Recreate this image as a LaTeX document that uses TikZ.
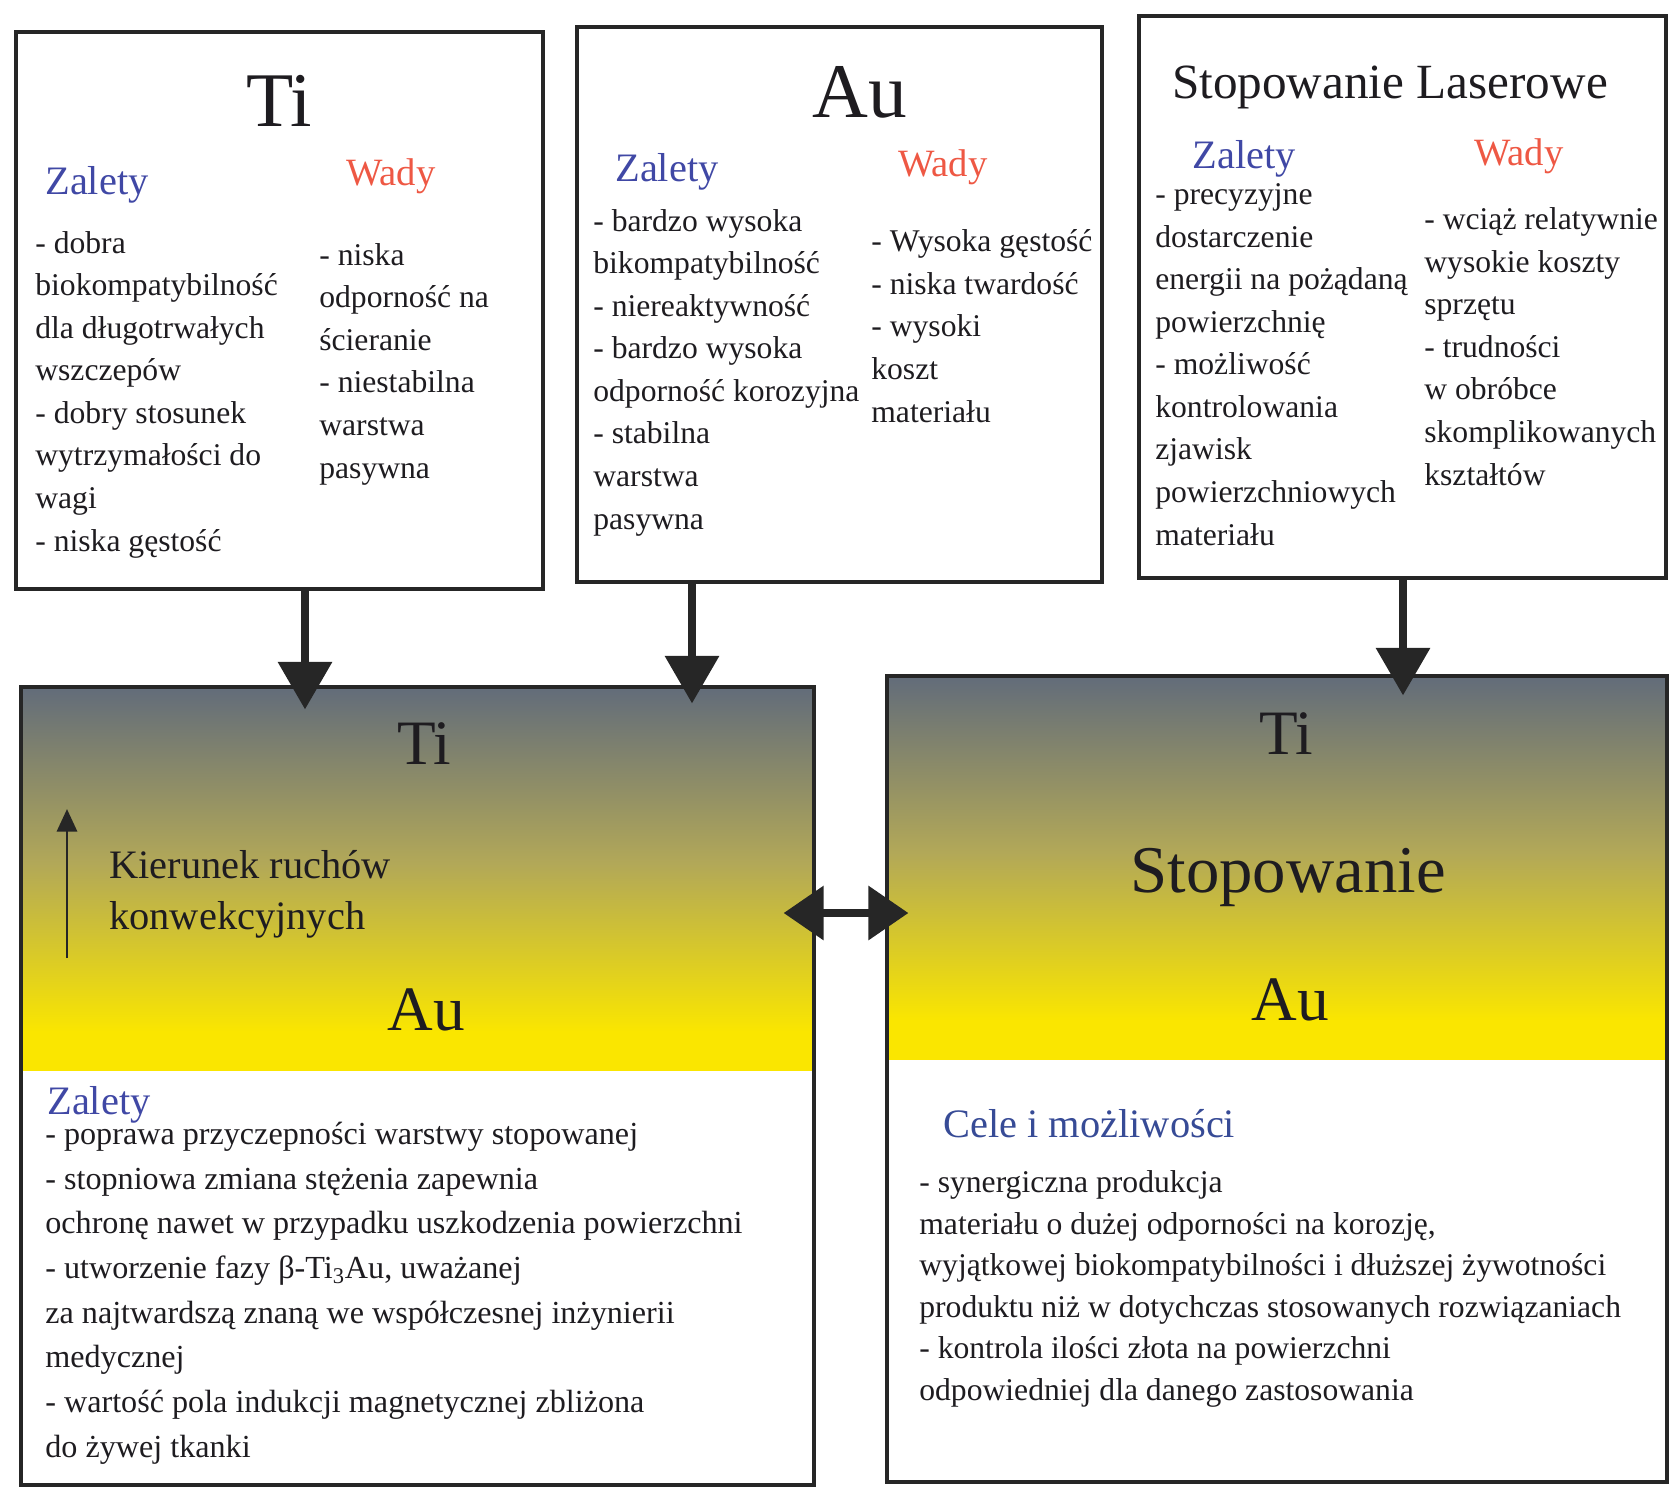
\documentclass[tikz,border=0pt]{standalone}
\usepackage{fontspec}
\setmainfont{Liberation Serif}
\usetikzlibrary{arrows.meta,fit}

\definecolor{zalcol}{RGB}{64,72,165}
\definecolor{wadcol}{RGB}{238,88,68}
\definecolor{celecol}{RGB}{55,75,150}
\definecolor{txtcol}{RGB}{30,28,32}
\definecolor{tigray}{RGB}{98,108,122}
\definecolor{midolive}{RGB}{178,168,88}
\definecolor{auyellow}{RGB}{250,230,0}

\pgfdeclareverticalshading{tiaushade}{100bp}{color(0bp)=(auyellow); color(25bp)=(auyellow); color(30bp)=(auyellow); color(52bp)=(midolive); color(75bp)=(tigray); color(100bp)=(tigray)}

\begin{document}
\begin{tikzpicture}[x=0.02cm, y=-0.02cm,
  box/.style={draw=black!85, line width=1.8pt, inner sep=0pt},
  lst/.style={anchor=base west, align=left, inner sep=0pt, text=txtcol, font=\fontsize{18}{24.2}\selectfont},
  lstwide/.style={lst, font=\fontsize{18.3}{25.4}\selectfont},
  lstcele/.style={lst, font=\fontsize{18}{23.6}\selectfont},
  zal/.style={anchor=base west, inner sep=0pt, text=zalcol, font=\fontsize{23}{28}\selectfont},
  wad/.style={anchor=base west, inner sep=0pt, text=wadcol, font=\fontsize{22}{28}\selectfont},
  elem/.style={anchor=base, inner sep=0pt, text=txtcol, font=\fontsize{44}{50}\selectfont},
  layer/.style={anchor=base, inner sep=0pt, text=txtcol, font=\fontsize{36}{40}\selectfont},
  bigarr/.style={draw=black!85, line width=4.6pt, -{Triangle[length=0.95cm,width=1.05cm]}},
  dblarr/.style={draw=black!85, line width=4.6pt, {Triangle[length=0.8cm,width=1.05cm]}-{Triangle[length=0.8cm,width=1.05cm]}},
  smallarr/.style={draw=black!85, line width=1.7pt, -{Triangle[length=0.45cm,width=0.4cm]}}]
\useasboundingbox (0,0) rectangle (1669,1489);

% top boxes
\node[box, fit={(16,32) (543,589)}] (ti) {};
\node[box, fit={(577,27) (1102,582)}] (au) {};
\node[box, fit={(1139,16) (1666,578)}] (laser) {};

% bottom boxes with Ti/Au gradient
\shade[shading=tiaushade] (21,687) rectangle (814,1070);
\shade[shading=tiaushade] (887,676) rectangle (1667,1059);
\node[box, fit={(21,687) (814,1485)}] (mixL) {};
\node[box, fit={(887,676) (1667,1482)}] (mixR) {};

% Ti (list nodes sit on the baseline of their last line)
\node[elem] (tiT) at (279,126) {Ti};
\node[zal] (tiZ) at (45,194) {Zalety};
\node[wad] (tiW) at (346,185) {Wady};
\node[lst] (tiZl) at (35,551) {- dobra\\ biokompatybilność\\ dla długotrwałych\\ wszczepów\\ - dobry stosunek\\ wytrzymałości do\\ wagi\\ - niska gęstość};
\node[lst] (tiWl) at (319,478) {- niska\\ odporność na\\ ścieranie\\ - niestabilna\\ warstwa\\ pasywna};

% Au
\node[elem] (auT) at (860,117) {Au};
\node[zal] (auZ) at (615,181) {Zalety};
\node[wad] (auW) at (898,176) {Wady};
\node[lst] (auZl) at (593,529) {- bardzo wysoka\\ bikompatybilność\\ - niereaktywność\\ - bardzo wysoka\\ odporność korozyjna\\ - stabilna\\ warstwa\\ pasywna};
\node[lst] (auWl) at (871,422) {- Wysoka gęstość\\ - niska twardość\\ - wysoki\\ koszt\\ materiału};

% Stopowanie laserowe
\node[anchor=base, inner sep=0pt, text=txtcol, font=\fontsize{28}{32}\selectfont] (laserT) at (1390,98) {Stopowanie Laserowe};
\node[zal] (laserZ) at (1192,168) {Zalety};
\node[wad] (laserW) at (1474,165) {Wady};
\node[lst] (laserZl) at (1155,545) {- precyzyjne\\ dostarczenie\\ energii na pożądaną\\ powierzchnię\\ - możliwość\\ kontrolowania\\ zjawisk\\ powierzchniowych\\ materiału};
\node[lst] (laserWl) at (1424,485) {- wciąż relatywnie\\ wysokie koszty\\ sprzętu\\ - trudności\\ w obróbce\\ skomplikowanych\\ kształtów};

% left bottom
\node[layer] (mixLti) at (424,764) {Ti};
\node[layer] (mixLau) at (426,1030) {Au};
\node[anchor=base west, align=left, inner sep=0pt, text=txtcol, font=\fontsize{23}{28.5}\selectfont] (conv) at (109,929) {Kierunek ruchów\\ konwekcyjnych};
\coordinate (convB) at (67,958);
\coordinate (convT) at (67,809);
\draw[smallarr] (convB) -- (convT);
\node[zal] (mixLz) at (47,1114) {Zalety};
\node[lstwide] (mixLl) at (45,1457) {- poprawa przyczepności warstwy stopowanej\\ - stopniowa zmiana stężenia zapewnia\\ ochronę nawet w przypadku uszkodzenia powierzchni\\ - utworzenie fazy β-Ti\textsubscript{3}Au, uważanej\\ za najtwardszą znaną we współczesnej inżynierii\\ medycznej\\ - wartość pola indukcji magnetycznej zbliżona\\ do żywej tkanki};

% right bottom
\node[layer] (mixRti) at (1286,754) {Ti};
\node[layer, font=\fontsize{38}{42}\selectfont] (mixRst) at (1288,892) {Stopowanie};
\node[layer] (mixRau) at (1290,1020) {Au};
\node[zal, text=celecol] (cele) at (943,1137) {Cele i możliwości};
\node[lstcele] (celel) at (919,1400) {- synergiczna produkcja\\ materiału o dużej odporności na korozję,\\ wyjątkowej biokompatybilności i dłuższej żywotności\\ produktu niż w dotychczas stosowanych rozwiązaniach\\ - kontrola ilości złota na powierzchni\\ odpowiedniej dla danego zastosowania};

% connectors
\coordinate (arrTi) at (305,0);
\coordinate (arrAu) at (692,0);
\coordinate (arrLa) at (1403,0);
\coordinate (arrMid) at (0,913);
\draw[bigarr, shorten >=-0.48cm] (ti.south -| arrTi) -- (mixL.north -| arrTi);
\draw[bigarr, shorten >=-0.36cm] (au.south -| arrAu) -- (mixL.north -| arrAu);
\draw[bigarr, shorten >=-0.42cm] (laser.south -| arrLa) -- (mixR.north -| arrLa);
\draw[dblarr, shorten <=-0.64cm, shorten >=-0.46cm] (mixL.east |- arrMid) -- (mixR.west |- arrMid);
\end{tikzpicture}
\end{document}
